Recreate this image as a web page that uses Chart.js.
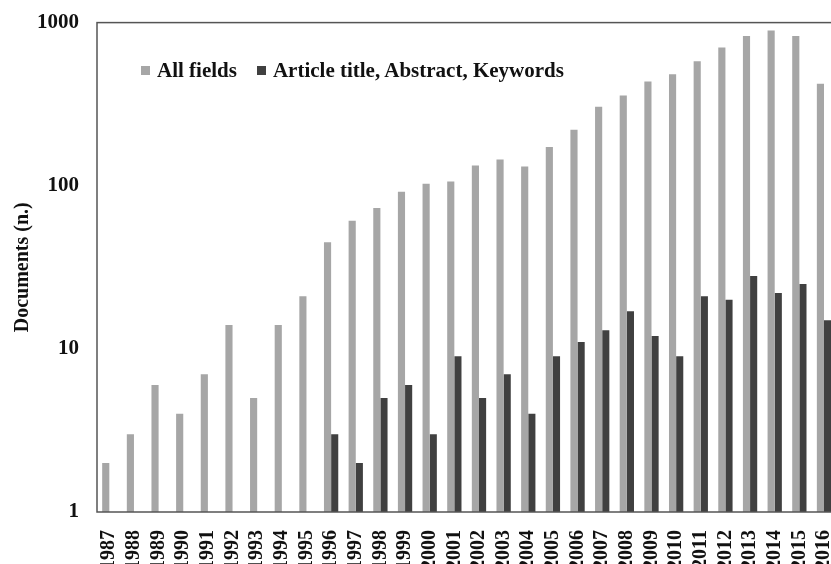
<!DOCTYPE html>
<html>
<head>
<meta charset="utf-8">
<script src="https://cdn.jsdelivr.net/npm/chart.js@4"></script>
<style>
  html, body { margin: 0; padding: 0; background: #fff; overflow: hidden; width: 831px; height: 564px; }
  #wrap { position: absolute; left: 0; top: 0; width: 858px; height: 600px; }
  #legend { position: absolute; left: 141px; top: 58px; font: bold 21px "Liberation Serif", "Times New Roman", serif; color: #111; white-space: nowrap; }
  #legend span.sw { display: inline-block; width: 9px; height: 9px; margin-right: 7px; vertical-align: 2px; }
  #legend span.item { margin-right: 20px; }
</style>
</head>
<body>
<div id="wrap"><canvas id="docsChart"></canvas></div>
<div id="legend"></div>
<script>
// Documenti per anno (scala logaritmica)
const years = ['1987','1988','1989','1990','1991','1992','1993','1994','1995','1996',
               '1997','1998','1999','2000','2001','2002','2003','2004','2005','2006',
               '2007','2008','2009','2010','2011','2012','2013','2014','2015','2016'];
const allFields = [2, 3, 6, 4, 7, 14, 5, 14, 21, 45,
                   61, 73, 92, 103, 106, 133, 145, 131, 173, 220,
                   305, 358, 435, 482, 579, 703, 829, 893, 829, 422];
const titleAbsKey = [null, null, null, null, null, null, null, null, null, 3,
                     2, 5, 6, 3, 9, 5, 7, 4, 9, 11,
                     13, 17, 12, 9, 21, 20, 28, 22, 25, 15];
const yTicks = [1, 10, 100, 1000];
const seriesNames = ['All fields', 'Article title, Abstract, Keywords'];
const seriesColors = ['#a6a6a6', '#404040'];

const serif = '"Liberation Serif", "Times New Roman", serif';

// bordo del riquadro del grafico
const frame = {
    id: 'frame',
    afterDatasetsDraw(chart) {
        const a = chart.chartArea;
        const ctx = chart.ctx;
        ctx.save();
        ctx.strokeStyle = '#555';
        ctx.lineWidth = 1.5;
        ctx.strokeRect(a.left, a.top, a.right - a.left, a.bottom - a.top);
        ctx.restore();
    }
};

new Chart(document.getElementById('docsChart'), {
    type: 'bar',
    data: {
        labels: years,
        datasets: [{
            label: seriesNames[0],
            data: allFields,
            backgroundColor: seriesColors[0],
            categoryPercentage: 0.58,
            barPercentage: 1
        }, {
            label: seriesNames[1],
            data: titleAbsKey,
            backgroundColor: seriesColors[1],
            categoryPercentage: 0.58,
            barPercentage: 1
        }]
    },
    options: {
        responsive: true,
        maintainAspectRatio: false,
        animation: false,
        layout: { padding: { top: 18, right: 0, left: 0, bottom: 0 } },
        plugins: {
            legend: { display: false },
            tooltip: { enabled: false }
        },
        scales: {
            x: {
                grid: { display: false },
                border: { display: false },
                ticks: {
                    color: '#111',
                    font: { family: serif, size: 20, weight: 'bold' },
                    minRotation: 90,
                    maxRotation: 90,
                    autoSkip: false,
                    padding: 10
                },
                afterFit(scale) { scale.height = 88; }
            },
            y: {
                type: 'logarithmic',
                min: 1,
                max: 1000,
                grid: { display: false },
                border: { display: false },
                afterBuildTicks(scale) {
                    scale.ticks = yTicks.map(v => ({ value: v }));
                },
                ticks: {
                    color: '#111',
                    font: { family: serif, size: 21, weight: 'bold' },
                    padding: 10,
                    callback: v => String(v)
                },
                title: {
                    display: true,
                    text: 'Documents (n.)',
                    color: '#111',
                    font: { family: serif, size: 20, weight: 'bold' },
                    padding: { top: 11, bottom: 0 }
                },
                afterFit(scale) { scale.width = 97; }
            }
        }
    },
    plugins: [frame]
});

// legenda HTML dentro l'area del grafico
const legendEl = document.getElementById('legend');
seriesNames.forEach(function(name, i) {
    const item = document.createElement('span');
    item.className = 'item';
    const sw = document.createElement('span');
    sw.className = 'sw';
    sw.style.background = seriesColors[i];
    item.appendChild(sw);
    item.appendChild(document.createTextNode(name));
    legendEl.appendChild(item);
});
</script>
</body>
</html>
